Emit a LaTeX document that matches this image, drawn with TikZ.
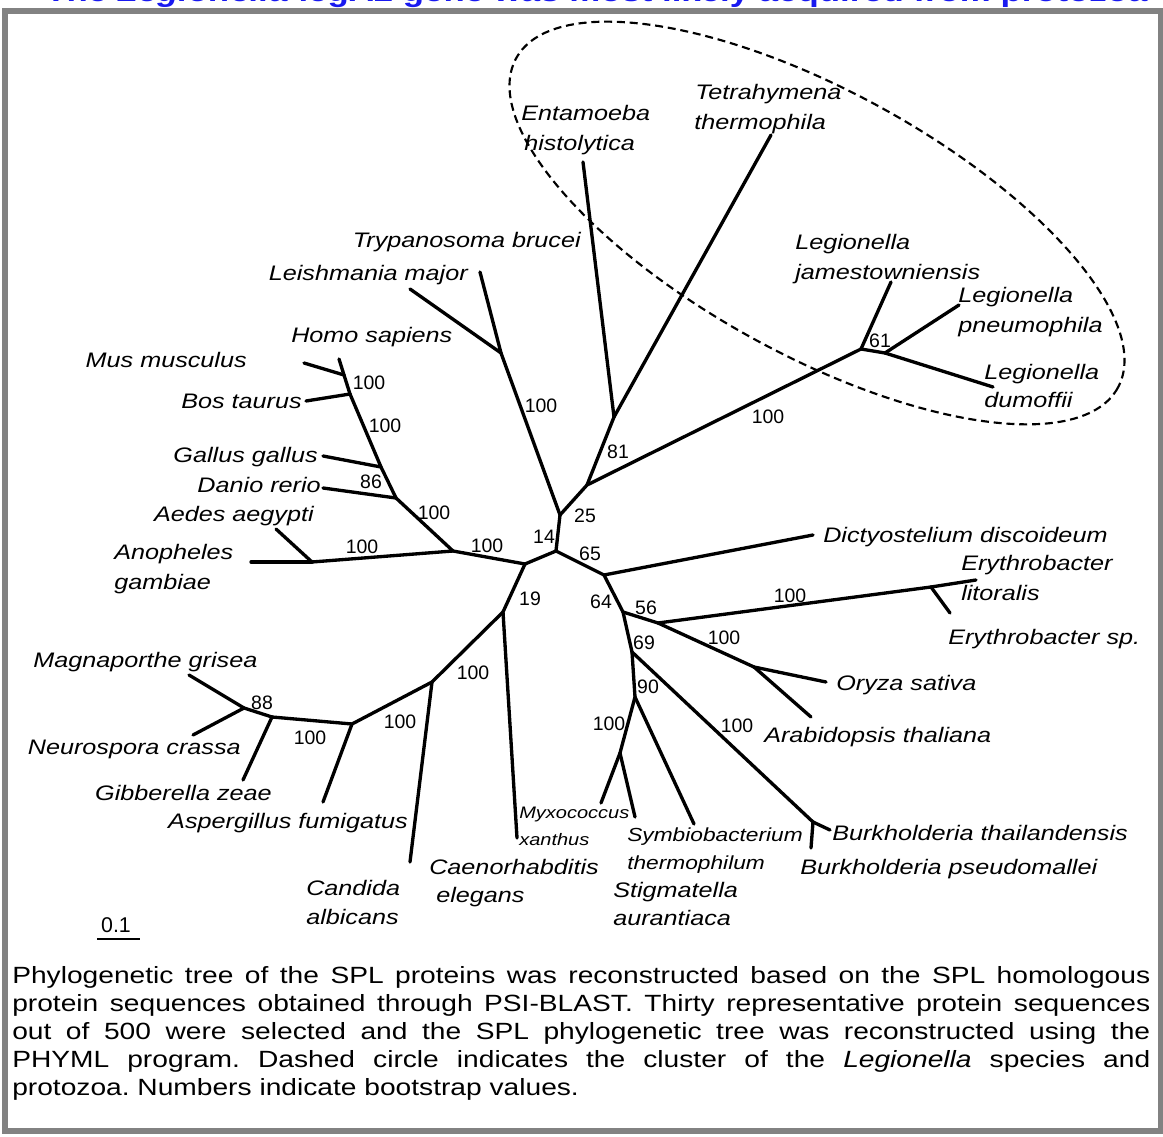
\documentclass[tikz,border=0pt]{standalone}
\usepackage{fontspec}
\setmainfont{Liberation Sans}
\newfontfamily\wideface[FakeStretch=1.2]{Liberation Sans}

\definecolor{framegray}{RGB}{130,130,130}
\definecolor{titleblue}{RGB}{25,25,240}

\tikzset{
  branch/.style={line width=2.5pt, line cap=round, line join=round},
  taxon/.style={font=\wideface\itshape\fontsize{15.75}{18}\selectfont, inner sep=0pt, text height=11.3pt, text depth=0pt},
  midtaxon/.style={font=\wideface\itshape\fontsize{14.2}{17}\selectfont, inner sep=0pt, text height=10.2pt, text depth=0pt},
  smalltaxon/.style={font=\wideface\itshape\fontsize{12.5}{15}\selectfont, inner sep=0pt, text height=9pt, text depth=0pt},
  boot/.style={font=\fontsize{14.6}{17}\selectfont, inner sep=0pt},
  cluster/.style={line width=1.6pt, dash pattern=on 6pt off 3.6pt}
}

\begin{document}
\begin{tikzpicture}[x=0.75pt, y=-0.75pt]
\useasboundingbox (0,0) rectangle (1163,1137);

% heading, cut by the top edge
\node[anchor=base west, inner sep=0pt, text=titleblue, font=\wideface\bfseries\fontsize{21.75}{26}\selectfont] (title) at (45,2) {The \textit{Legionella} legA2 gene was most likely acquired from protozoa};
\draw[framegray, line width=4.5pt] (4.5,11) rectangle (1160.5,1131);

% protozoa + Legionella cluster
\draw[cluster, rotate around={-28.7:(817,223)}] (817,223) ellipse [x radius=343, y radius=132];

% inner nodes
\coordinate (c) at (556,551);
\coordinate (l) at (525,564);
\coordinate (r) at (604,575);
\coordinate (n25) at (560,515);
\coordinate (nx) at (587,485);
\coordinate (n81) at (614,417);
\coordinate (g61) at (861,349);
\coordinate (g2) at (885,353);
\coordinate (tb) at (501,353);
\coordinate (a100) at (453,551);
\coordinate (dip) at (312,562);
\coordinate (v1) at (396,498);
\coordinate (v2) at (381,467);
\coordinate (v3) at (350,394);
\coordinate (v4) at (344,375);
\coordinate (n19) at (503,612);
\coordinate (f1) at (432,682);
\coordinate (f2) at (352,724);
\coordinate (f3) at (272,717);
\coordinate (f4) at (244,708);
\coordinate (n64) at (623,612);
\coordinate (n56) at (658,623);
\coordinate (ery) at (931,587);
\coordinate (pl) at (754,667);
\coordinate (n69) at (632,652);
\coordinate (bu) at (813,822);
\coordinate (n90) at (635,697);
\coordinate (mx) at (620,753);

% leaves
\coordinate (mus) at (304,363);
\coordinate (hom) at (339,359);
\coordinate (bos) at (306,401);
\coordinate (gal) at (323,456);
\coordinate (dan) at (323,488);
\coordinate (aed) at (276,529);
\coordinate (ano) at (251,562);
\coordinate (lei) at (410,289);
\coordinate (try) at (480,272);
\coordinate (ent) at (583,162);
\coordinate (tet) at (771,135);
\coordinate (ljam) at (891,282);
\coordinate (lpne) at (959,305);
\coordinate (ldum) at (993,387);
\coordinate (dic) at (813,535);
\coordinate (elit) at (976,580);
\coordinate (esp) at (950,613);
\coordinate (ory) at (826,682);
\coordinate (ara) at (811,717);
\coordinate (bth) at (830,830);
\coordinate (bps) at (811,848);
\coordinate (sym) at (694,824);
\coordinate (myx) at (601,803);
\coordinate (sti) at (635,817);
\coordinate (cae) at (517,838);
\coordinate (can) at (410,862);
\coordinate (asp) at (323,802);
\coordinate (gib) at (243,780);
\coordinate (mag) at (189,675);
\coordinate (neu) at (193,735);

% branches
\draw[branch] (l)--(c);
\draw[branch] (c)--(n25);
\draw[branch] (c)--(r);
\draw[branch] (l)--(a100);
\draw[branch] (l)--(n19);
\draw[branch] (a100)--(dip);
\draw[branch] (dip)--(ano);
\draw[branch] (dip)--(aed);
\draw[branch] (a100)--(v1);
\draw[branch] (v1)--(dan);
\draw[branch] (v1)--(v2);
\draw[branch] (v2)--(gal);
\draw[branch] (v2)--(v3);
\draw[branch] (v3)--(bos);
\draw[branch] (v3)--(v4);
\draw[branch] (v4)--(mus);
\draw[branch] (v4)--(hom);
\draw[branch] (n25)--(tb);
\draw[branch] (tb)--(lei);
\draw[branch] (tb)--(try);
\draw[branch] (n25)--(nx);
\draw[branch] (nx)--(n81);
\draw[branch] (n81)--(ent);
\draw[branch] (n81)--(tet);
\draw[branch] (nx)--(g61);
\draw[branch] (g61)--(ljam);
\draw[branch] (g61)--(g2);
\draw[branch] (g2)--(lpne);
\draw[branch] (g2)--(ldum);
\draw[branch] (r)--(dic);
\draw[branch] (r)--(n64);
\draw[branch] (n64)--(n56);
\draw[branch] (n56)--(ery);
\draw[branch] (ery)--(elit);
\draw[branch] (ery)--(esp);
\draw[branch] (n56)--(pl);
\draw[branch] (pl)--(ory);
\draw[branch] (pl)--(ara);
\draw[branch] (n64)--(n69);
\draw[branch] (n69)--(bu);
\draw[branch] (bu)--(bth);
\draw[branch] (bu)--(bps);
\draw[branch] (n69)--(n90);
\draw[branch] (n90)--(sym);
\draw[branch] (n90)--(mx);
\draw[branch] (mx)--(myx);
\draw[branch] (mx)--(sti);
\draw[branch] (n19)--(cae);
\draw[branch] (n19)--(f1);
\draw[branch] (f1)--(can);
\draw[branch] (f1)--(f2);
\draw[branch] (f2)--(asp);
\draw[branch] (f2)--(f3);
\draw[branch] (f3)--(gib);
\draw[branch] (f3)--(f4);
\draw[branch] (f4)--(mag);
\draw[branch] (f4)--(neu);

% species names
\node[taxon, anchor=east] (musl) at (247,360) {Mus musculus};
\node[taxon, anchor=west] (homl) at (291,335) {Homo sapiens};
\node[taxon, anchor=east] (bosl) at (302,401) {Bos taurus};
\node[taxon, anchor=east] (gall) at (318,455) {Gallus gallus};
\node[taxon, anchor=east] (danl) at (321,485) {Danio rerio};
\node[taxon, anchor=east] (aedl) at (314,514) {Aedes aegypti};
\node[taxon, anchor=west] (anol) at (114,552) {Anopheles};
\node[taxon, anchor=west] (anol2) at (114,582) {gambiae};
\node[taxon, anchor=east] (leil) at (468,273) {Leishmania major};
\node[taxon, anchor=east] (tryl) at (581,240) {Trypanosoma brucei};
\node[taxon, anchor=west] (entl) at (521,113) {Entamoeba};
\node[taxon, anchor=west] (entl2) at (524,143) {histolytica};
\node[taxon, anchor=west] (tetl) at (695,92) {Tetrahymena};
\node[taxon, anchor=west] (tetl2) at (694,122) {thermophila};
\node[taxon, anchor=west] (ljaml) at (795,242) {Legionella};
\node[taxon, anchor=west] (ljaml2) at (795,272) {jamestowniensis};
\node[taxon, anchor=west] (lpnel) at (958,295) {Legionella};
\node[taxon, anchor=west] (lpnel2) at (958,325) {pneumophila};
\node[taxon, anchor=west] (ldumL) at (984,372) {Legionella};
\node[taxon, anchor=west] (ldumL2) at (984,400) {dumoffii};
\node[taxon, anchor=west] (dicl) at (823,535) {Dictyostelium discoideum};
\node[taxon, anchor=west] (elitl) at (961,563) {Erythrobacter};
\node[taxon, anchor=west] (elitl2) at (961,593) {litoralis};
\node[taxon, anchor=west] (espl) at (948,637) {Erythrobacter sp.};
\node[taxon, anchor=west] (oryl) at (836,683) {Oryza sativa};
\node[taxon, anchor=west] (aral) at (764,735) {Arabidopsis thaliana};
\node[taxon, anchor=west] (bthl) at (832,833) {Burkholderia thailandensis};
\node[taxon, anchor=west] (bpsl) at (800,867) {Burkholderia pseudomallei};
\node[midtaxon, anchor=west] (syml) at (627,835) {Symbiobacterium};
\node[midtaxon, anchor=west] (syml2) at (627,863) {thermophilum};
\node[taxon, anchor=west] (stil) at (613,890) {Stigmatella};
\node[taxon, anchor=west] (stil2) at (613,918) {aurantiaca};
\node[smalltaxon, anchor=west] (myxl) at (519,812) {Myxococcus};
\node[smalltaxon, anchor=west] (myxl2) at (519,839) {xanthus};
\node[taxon, anchor=west] (cael) at (429,867) {Caenorhabditis};
\node[taxon, anchor=west] (cael2) at (436,895) {elegans};
\node[taxon, anchor=west] (canl) at (306,888) {Candida};
\node[taxon, anchor=west] (canl2) at (306,917) {albicans};
\node[taxon, anchor=east] (aspl) at (408,821) {Aspergillus fumigatus};
\node[taxon, anchor=east] (gibl) at (272,793) {Gibberella zeae};
\node[taxon, anchor=west] (magl) at (33,660) {Magnaporthe grisea};
\node[taxon, anchor=east] (neul) at (241,747) {Neurospora crassa};

% bootstrap values
\node[boot] (b1) at (369,383) {100};
\node[boot] (b2) at (385,426) {100};
\node[boot] (b3) at (371,482) {86};
\node[boot] (b4) at (434,513) {100};
\node[boot] (b5) at (362,547) {100};
\node[boot] (b6) at (487,546) {100};
\node[boot] (b7) at (541,406) {100};
\node[boot] (b8) at (544,537) {14};
\node[boot] (b9) at (585,516) {25};
\node[boot] (b10) at (618,452) {81};
\node[boot] (b11) at (768,417) {100};
\node[boot] (b12) at (880,341) {61};
\node[boot] (b13) at (590,554) {65};
\node[boot] (b14) at (601,602) {64};
\node[boot] (b15) at (646,608) {56};
\node[boot] (b16) at (530,599) {19};
\node[boot] (b17) at (790,596) {100};
\node[boot] (b18) at (724,638) {100};
\node[boot] (b19) at (644,643) {69};
\node[boot] (b20) at (648,687) {90};
\node[boot] (b21) at (609,724) {100};
\node[boot] (b22) at (737,726) {100};
\node[boot] (b23) at (473,673) {100};
\node[boot] (b24) at (400,722) {100};
\node[boot] (b25) at (310,738) {100};
\node[boot] (b26) at (262,703) {88};

% scale bar
\node[boot, font=\fontsize{16}{18}\selectfont] (scalel) at (116,925) {0.1};
\coordinate (sba) at (97,939);
\coordinate (sbb) at (140,939);
\draw[line width=2pt] (sba)--(sbb);

% legend text
\node[anchor=base west, inner sep=0pt] (caption) at (12,983) {\parbox[t]{853.5pt}{\frenchspacing\wideface\fontsize{17.6}{21.15}\selectfont Phylogenetic tree of the SPL proteins was reconstructed based on the SPL homologous\linebreak protein sequences obtained through PSI-BLAST. Thirty representative protein sequences\linebreak out of 500 were selected and the SPL phylogenetic tree was reconstructed using the\linebreak PHYML program. Dashed circle indicates the cluster of the \textit{Legionella} species and\linebreak protozoa. Numbers indicate bootstrap values.}};
\end{tikzpicture}
\end{document}
